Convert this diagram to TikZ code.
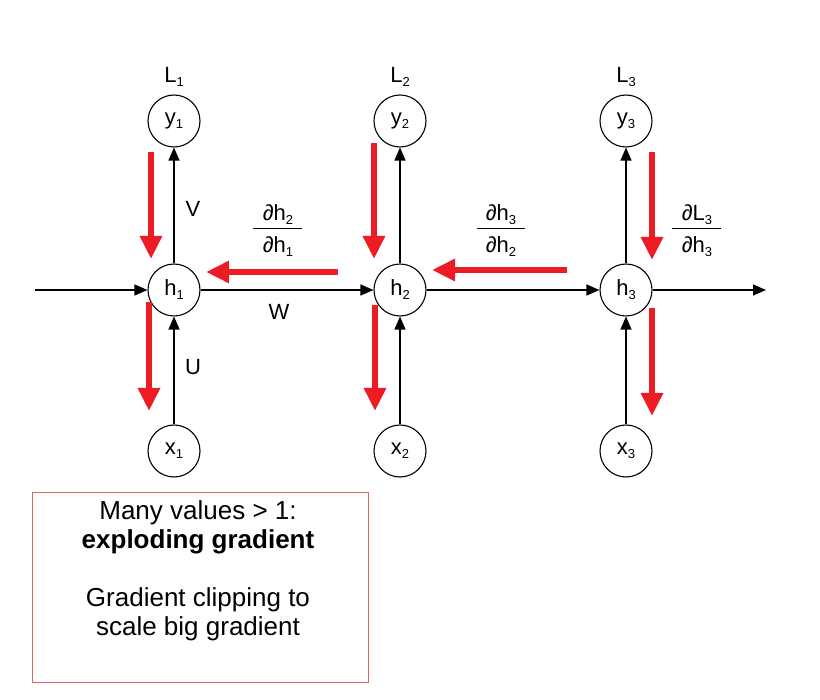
\documentclass[tikz,border=0pt]{standalone}
\usepackage{fontspec}
\setmainfont{Liberation Sans}
\usetikzlibrary{arrows.meta}
\newcommand\sbs[1]{\raisebox{-4pt}{\fontsize{13}{13}\selectfont #1}}
\definecolor{gradred}{RGB}{237,28,36}
\definecolor{boxred}{RGB}{222,100,100}
\begin{document}
\begin{tikzpicture}[x=1pt,y=-1pt,
  circ/.style={circle,draw,line width=1.1pt,minimum size=52pt,inner sep=0pt,font=\fontsize{22}{22}\selectfont},
  lbl/.style={inner sep=0pt,font=\fontsize{22}{22}\selectfont},
  blk/.style={line width=1.2pt,-{Triangle[length=13pt,width=11pt]}},
  grad/.style={gradred,line width=6pt,-{Triangle[length=23pt,width=21pt]}},
  fracline/.style={line width=1pt}]
\useasboundingbox (0,0) rectangle (820,700);
% nodes
\node[circ] (y1) at (174,121) {y\sbs{1}};
\node[circ] (h1) at (174,290) {h\sbs{1}};
\node[circ] (x1) at (174,451) {x\sbs{1}};
\node[circ] (y2) at (400,121) {y\sbs{2}};
\node[circ] (h2) at (400,290) {h\sbs{2}};
\node[circ] (x2) at (400,451) {x\sbs{2}};
\node[circ] (y3) at (626,121) {y\sbs{3}};
\node[circ] (h3) at (626,290) {h\sbs{3}};
\node[circ] (x3) at (626,451) {x\sbs{3}};
\coordinate (in) at (35,290);
\coordinate (out) at (766,290);
% labels
\node[lbl] (L1) at (174,77) {L\sbs{1}};
\node[lbl] (L2) at (400,77) {L\sbs{2}};
\node[lbl] (L3) at (626,77) {L\sbs{3}};
\node[lbl] (V) at (193,209) {V};
\node[lbl] (U) at (193,367) {U};
\node[lbl] (W) at (279,312) {W};
% black connectors
\draw[blk] (in) -- (h1);
\draw[blk] (h1) -- (h2);
\draw[blk] (h2) -- (h3);
\draw[blk] (h3) -- (out);
\foreach \i in {1,2,3}{
  \draw[blk] (x\i) -- (h\i);
  \draw[blk] (h\i) -- (y\i);
}
% fractions
\node[lbl] (f1n) at (278,215) {∂h\sbs{2}};
\node[lbl] (f1d) at (278,247) {∂h\sbs{1}};
\draw[fracline] (253,229) -- (302,229);
\node[lbl] (f2n) at (501,215) {∂h\sbs{3}};
\node[lbl] (f2d) at (501,247) {∂h\sbs{2}};
\draw[fracline] (477,229) -- (525,229);
\node[lbl] (f3n) at (697,215) {∂L\sbs{3}};
\node[lbl] (f3d) at (697,247) {∂h\sbs{3}};
\draw[fracline] (672,229) -- (721,229);
% red gradient arrows
\coordinate (a1s) at (151,152); \coordinate (a1e) at (151,259);
\coordinate (a2s) at (149,302); \coordinate (a2e) at (149,411);
\coordinate (a3s) at (374,143); \coordinate (a3e) at (374,259);
\coordinate (a4s) at (375,305); \coordinate (a4e) at (375,411);
\coordinate (a5s) at (652,152); \coordinate (a5e) at (652,260);
\coordinate (a6s) at (652,308); \coordinate (a6e) at (652,416);
\coordinate (b1s) at (338,272); \coordinate (b1e) at (206,272);
\coordinate (b2s) at (567,270); \coordinate (b2e) at (432,270);
\foreach \p in {a1,a2,a3,a4,a5,a6,b1,b2}{
  \draw[grad] (\p s) -- (\p e);
}
% text box
\node[draw=boxred,line width=1pt,minimum width=336pt,minimum height=189pt,inner sep=0pt] (box) at (200,587.5) {};
\node[anchor=north,align=center,inner sep=0pt,font=\fontsize{26}{29}\selectfont] (txt) at (198,500.5)
  {Many values > 1:\\ \textbf{exploding gradient}\\[29pt] Gradient clipping to\\ scale big gradient};
\end{tikzpicture}
\end{document}
